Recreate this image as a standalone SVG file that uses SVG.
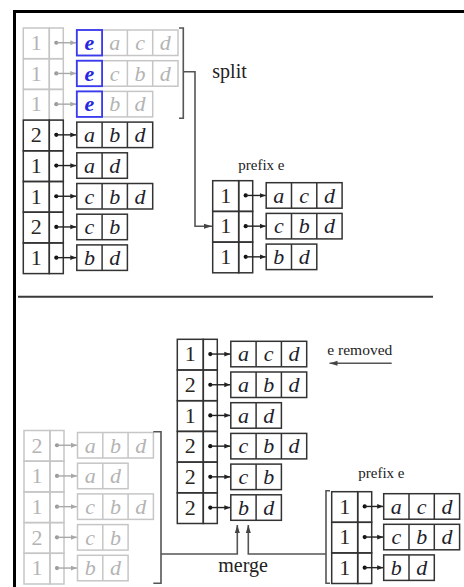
<svg xmlns="http://www.w3.org/2000/svg" width="464" height="587" viewBox="0 0 464 587">
<defs>
<style>
.frame{stroke:#000;stroke-width:3;fill:none}
.div{stroke:#3a3a3a;stroke-width:2}
.cell{fill:none;stroke:#333;stroke-width:1.5}
.f .cell{stroke:#c6c6c6}
.num{font-family:"Liberation Serif",serif;font-size:22px;text-anchor:middle;fill:#2a2622}
.let{font-family:"Liberation Serif",serif;font-size:22px;font-style:italic;text-anchor:middle;fill:#1e1e2c}
.f .num,.f .let{fill:#b4b4b4}
.ptr{stroke:#222;stroke-width:1.4}
.f .ptr{stroke:#a8a8a8}
.dot{fill:#111}
.f .dot{fill:#9a9a9a}
.blue{stroke:#3a3af0;stroke-width:1.8;fill:none}
.f .eb{fill:#2626e0;font-weight:bold}
.conn{stroke:#555;stroke-width:1.6;fill:none}
.lbl{font-family:"Liberation Serif",serif;fill:#222}
</style>
<marker id="ah" viewBox="0 0 6 6" refX="6" refY="3" markerWidth="6" markerHeight="6" markerUnits="userSpaceOnUse" orient="auto"><path d="M0,0.6 L6,3 L0,5.4 z" fill="#222"/></marker>
<marker id="ahf" viewBox="0 0 6 6" refX="6" refY="3" markerWidth="6" markerHeight="6" markerUnits="userSpaceOnUse" orient="auto"><path d="M0,0.6 L6,3 L0,5.4 z" fill="#a8a8a8"/></marker>
<marker id="ahc" viewBox="0 0 8 6" refX="8" refY="3" markerWidth="8" markerHeight="6" markerUnits="userSpaceOnUse" orient="auto"><path d="M0,0.5 L8,3 L0,5.5 z" fill="#444"/></marker>
</defs>

<g id="frame">
<path class="frame" d="M13,11.5 H464 M14.5,10 V587"/>
<line class="div" x1="18" y1="296.7" x2="433" y2="296.7"/>
</g>

<g id="table-top-faded" class="f" transform="translate(23.3,28)">
<g transform="translate(0,0)">
<rect class="cell" width="26" height="30.7"/><rect class="cell" x="26" width="14" height="30.7"/>
<text class="num" x="13" y="22">1</text>
<circle class="dot" cx="33" cy="14.75" r="2.1"/><line class="ptr" x1="33" y1="14.75" x2="53" y2="14.75" marker-end="url(#ahf)"/>
<rect class="cell" x="53.5" y="2" width="101.2" height="25.5"/>
<path class="cell" d="M78.8,2 V27.5 M104.1,2 V27.5 M129.4,2 V27.5"/>
<rect class="blue" x="53.5" y="2" width="25.3" height="25.5"/>
<text class="let eb" x="66.15" y="22">e</text><text class="let" x="91.45" y="22">a</text><text class="let" x="116.75" y="22">c</text><text class="let" x="142.05" y="22">d</text>
</g>
<g transform="translate(0,30.7)">
<rect class="cell" width="26" height="30.7"/><rect class="cell" x="26" width="14" height="30.7"/>
<text class="num" x="13" y="22">1</text>
<circle class="dot" cx="33" cy="14.75" r="2.1"/><line class="ptr" x1="33" y1="14.75" x2="53" y2="14.75" marker-end="url(#ahf)"/>
<rect class="cell" x="53.5" y="2" width="101.2" height="25.5"/>
<path class="cell" d="M78.8,2 V27.5 M104.1,2 V27.5 M129.4,2 V27.5"/>
<rect class="blue" x="53.5" y="2" width="25.3" height="25.5"/>
<text class="let eb" x="66.15" y="22">e</text><text class="let" x="91.45" y="22">c</text><text class="let" x="116.75" y="22">b</text><text class="let" x="142.05" y="22">d</text>
</g>
<g transform="translate(0,61.4)">
<rect class="cell" width="26" height="30.7"/><rect class="cell" x="26" width="14" height="30.7"/>
<text class="num" x="13" y="22">1</text>
<circle class="dot" cx="33" cy="14.75" r="2.1"/><line class="ptr" x1="33" y1="14.75" x2="53" y2="14.75" marker-end="url(#ahf)"/>
<rect class="cell" x="53.5" y="2" width="75.9" height="25.5"/>
<path class="cell" d="M78.8,2 V27.5 M104.1,2 V27.5"/>
<rect class="blue" x="53.5" y="2" width="25.3" height="25.5"/>
<text class="let eb" x="66.15" y="22">e</text><text class="let" x="91.45" y="22">b</text><text class="let" x="116.75" y="22">d</text>
</g>
</g>

<g id="table-top-main" transform="translate(23.3,120.1)">
<g transform="translate(0,0)">
<rect class="cell" width="26" height="30.7"/><rect class="cell" x="26" width="14" height="30.7"/>
<text class="num" x="13" y="22">2</text>
<circle class="dot" cx="33" cy="14.75" r="2.1"/><line class="ptr" x1="33" y1="14.75" x2="53" y2="14.75" marker-end="url(#ah)"/>
<rect class="cell" x="53.5" y="2" width="75.9" height="25.5"/>
<path class="cell" d="M78.8,2 V27.5 M104.1,2 V27.5"/>
<text class="let" x="66.15" y="22">a</text><text class="let" x="91.45" y="22">b</text><text class="let" x="116.75" y="22">d</text>
</g>
<g transform="translate(0,30.7)">
<rect class="cell" width="26" height="30.7"/><rect class="cell" x="26" width="14" height="30.7"/>
<text class="num" x="13" y="22">1</text>
<circle class="dot" cx="33" cy="14.75" r="2.1"/><line class="ptr" x1="33" y1="14.75" x2="53" y2="14.75" marker-end="url(#ah)"/>
<rect class="cell" x="53.5" y="2" width="50.6" height="25.5"/>
<path class="cell" d="M78.8,2 V27.5"/>
<text class="let" x="66.15" y="22">a</text><text class="let" x="91.45" y="22">d</text>
</g>
<g transform="translate(0,61.4)">
<rect class="cell" width="26" height="30.7"/><rect class="cell" x="26" width="14" height="30.7"/>
<text class="num" x="13" y="22">1</text>
<circle class="dot" cx="33" cy="14.75" r="2.1"/><line class="ptr" x1="33" y1="14.75" x2="53" y2="14.75" marker-end="url(#ah)"/>
<rect class="cell" x="53.5" y="2" width="75.9" height="25.5"/>
<path class="cell" d="M78.8,2 V27.5 M104.1,2 V27.5"/>
<text class="let" x="66.15" y="22">c</text><text class="let" x="91.45" y="22">b</text><text class="let" x="116.75" y="22">d</text>
</g>
<g transform="translate(0,92.1)">
<rect class="cell" width="26" height="30.7"/><rect class="cell" x="26" width="14" height="30.7"/>
<text class="num" x="13" y="22">2</text>
<circle class="dot" cx="33" cy="14.75" r="2.1"/><line class="ptr" x1="33" y1="14.75" x2="53" y2="14.75" marker-end="url(#ah)"/>
<rect class="cell" x="53.5" y="2" width="50.6" height="25.5"/>
<path class="cell" d="M78.8,2 V27.5"/>
<text class="let" x="66.15" y="22">c</text><text class="let" x="91.45" y="22">b</text>
</g>
<g transform="translate(0,122.8)">
<rect class="cell" width="26" height="30.7"/><rect class="cell" x="26" width="14" height="30.7"/>
<text class="num" x="13" y="22">1</text>
<circle class="dot" cx="33" cy="14.75" r="2.1"/><line class="ptr" x1="33" y1="14.75" x2="53" y2="14.75" marker-end="url(#ah)"/>
<rect class="cell" x="53.5" y="2" width="50.6" height="25.5"/>
<path class="cell" d="M78.8,2 V27.5"/>
<text class="let" x="66.15" y="22">b</text><text class="let" x="91.45" y="22">d</text>
</g>
</g>

<g id="table-prefix-top" transform="translate(212.7,180.7)">
<g transform="translate(0,0)">
<rect class="cell" width="26" height="30.7"/><rect class="cell" x="26" width="14" height="30.7"/>
<text class="num" x="13" y="22">1</text>
<circle class="dot" cx="33" cy="14.75" r="2.1"/><line class="ptr" x1="33" y1="14.75" x2="53" y2="14.75" marker-end="url(#ah)"/>
<rect class="cell" x="53.5" y="2" width="75.9" height="25.5"/>
<path class="cell" d="M78.8,2 V27.5 M104.1,2 V27.5"/>
<text class="let" x="66.15" y="22">a</text><text class="let" x="91.45" y="22">c</text><text class="let" x="116.75" y="22">d</text>
</g>
<g transform="translate(0,30.7)">
<rect class="cell" width="26" height="30.7"/><rect class="cell" x="26" width="14" height="30.7"/>
<text class="num" x="13" y="22">1</text>
<circle class="dot" cx="33" cy="14.75" r="2.1"/><line class="ptr" x1="33" y1="14.75" x2="53" y2="14.75" marker-end="url(#ah)"/>
<rect class="cell" x="53.5" y="2" width="75.9" height="25.5"/>
<path class="cell" d="M78.8,2 V27.5 M104.1,2 V27.5"/>
<text class="let" x="66.15" y="22">c</text><text class="let" x="91.45" y="22">b</text><text class="let" x="116.75" y="22">d</text>
</g>
<g transform="translate(0,61.4)">
<rect class="cell" width="26" height="30.7"/><rect class="cell" x="26" width="14" height="30.7"/>
<text class="num" x="13" y="22">1</text>
<circle class="dot" cx="33" cy="14.75" r="2.1"/><line class="ptr" x1="33" y1="14.75" x2="53" y2="14.75" marker-end="url(#ah)"/>
<rect class="cell" x="53.5" y="2" width="50.6" height="25.5"/>
<path class="cell" d="M78.8,2 V27.5"/>
<text class="let" x="66.15" y="22">b</text><text class="let" x="91.45" y="22">d</text>
</g>
</g>

<g id="table-merged" transform="translate(177.3,339.3)">
<g transform="translate(0,0)">
<rect class="cell" width="26" height="30.7"/><rect class="cell" x="26" width="14" height="30.7"/>
<text class="num" x="13" y="22">1</text>
<circle class="dot" cx="33" cy="14.75" r="2.1"/><line class="ptr" x1="33" y1="14.75" x2="53" y2="14.75" marker-end="url(#ah)"/>
<rect class="cell" x="53.5" y="2" width="75.9" height="25.5"/>
<path class="cell" d="M78.8,2 V27.5 M104.1,2 V27.5"/>
<text class="let" x="66.15" y="22">a</text><text class="let" x="91.45" y="22">c</text><text class="let" x="116.75" y="22">d</text>
</g>
<g transform="translate(0,30.7)">
<rect class="cell" width="26" height="30.7"/><rect class="cell" x="26" width="14" height="30.7"/>
<text class="num" x="13" y="22">2</text>
<circle class="dot" cx="33" cy="14.75" r="2.1"/><line class="ptr" x1="33" y1="14.75" x2="53" y2="14.75" marker-end="url(#ah)"/>
<rect class="cell" x="53.5" y="2" width="75.9" height="25.5"/>
<path class="cell" d="M78.8,2 V27.5 M104.1,2 V27.5"/>
<text class="let" x="66.15" y="22">a</text><text class="let" x="91.45" y="22">b</text><text class="let" x="116.75" y="22">d</text>
</g>
<g transform="translate(0,61.4)">
<rect class="cell" width="26" height="30.7"/><rect class="cell" x="26" width="14" height="30.7"/>
<text class="num" x="13" y="22">1</text>
<circle class="dot" cx="33" cy="14.75" r="2.1"/><line class="ptr" x1="33" y1="14.75" x2="53" y2="14.75" marker-end="url(#ah)"/>
<rect class="cell" x="53.5" y="2" width="50.6" height="25.5"/>
<path class="cell" d="M78.8,2 V27.5"/>
<text class="let" x="66.15" y="22">a</text><text class="let" x="91.45" y="22">d</text>
</g>
<g transform="translate(0,92.1)">
<rect class="cell" width="26" height="30.7"/><rect class="cell" x="26" width="14" height="30.7"/>
<text class="num" x="13" y="22">2</text>
<circle class="dot" cx="33" cy="14.75" r="2.1"/><line class="ptr" x1="33" y1="14.75" x2="53" y2="14.75" marker-end="url(#ah)"/>
<rect class="cell" x="53.5" y="2" width="75.9" height="25.5"/>
<path class="cell" d="M78.8,2 V27.5 M104.1,2 V27.5"/>
<text class="let" x="66.15" y="22">c</text><text class="let" x="91.45" y="22">b</text><text class="let" x="116.75" y="22">d</text>
</g>
<g transform="translate(0,122.8)">
<rect class="cell" width="26" height="30.7"/><rect class="cell" x="26" width="14" height="30.7"/>
<text class="num" x="13" y="22">2</text>
<circle class="dot" cx="33" cy="14.75" r="2.1"/><line class="ptr" x1="33" y1="14.75" x2="53" y2="14.75" marker-end="url(#ah)"/>
<rect class="cell" x="53.5" y="2" width="50.6" height="25.5"/>
<path class="cell" d="M78.8,2 V27.5"/>
<text class="let" x="66.15" y="22">c</text><text class="let" x="91.45" y="22">b</text>
</g>
<g transform="translate(0,153.5)">
<rect class="cell" width="26" height="30.7"/><rect class="cell" x="26" width="14" height="30.7"/>
<text class="num" x="13" y="22">2</text>
<circle class="dot" cx="33" cy="14.75" r="2.1"/><line class="ptr" x1="33" y1="14.75" x2="53" y2="14.75" marker-end="url(#ah)"/>
<rect class="cell" x="53.5" y="2" width="50.6" height="25.5"/>
<path class="cell" d="M78.8,2 V27.5"/>
<text class="let" x="66.15" y="22">b</text><text class="let" x="91.45" y="22">d</text>
</g>
</g>

<g id="table-bottom-faded" class="f" transform="translate(24,430.5)">
<g transform="translate(0,0)">
<rect class="cell" width="26" height="30.7"/><rect class="cell" x="26" width="14" height="30.7"/>
<text class="num" x="13" y="22">2</text>
<circle class="dot" cx="33" cy="14.75" r="2.1"/><line class="ptr" x1="33" y1="14.75" x2="53" y2="14.75" marker-end="url(#ahf)"/>
<rect class="cell" x="53.5" y="2" width="75.9" height="25.5"/>
<path class="cell" d="M78.8,2 V27.5 M104.1,2 V27.5"/>
<text class="let" x="66.15" y="22">a</text><text class="let" x="91.45" y="22">b</text><text class="let" x="116.75" y="22">d</text>
</g>
<g transform="translate(0,30.7)">
<rect class="cell" width="26" height="30.7"/><rect class="cell" x="26" width="14" height="30.7"/>
<text class="num" x="13" y="22">1</text>
<circle class="dot" cx="33" cy="14.75" r="2.1"/><line class="ptr" x1="33" y1="14.75" x2="53" y2="14.75" marker-end="url(#ahf)"/>
<rect class="cell" x="53.5" y="2" width="50.6" height="25.5"/>
<path class="cell" d="M78.8,2 V27.5"/>
<text class="let" x="66.15" y="22">a</text><text class="let" x="91.45" y="22">d</text>
</g>
<g transform="translate(0,61.4)">
<rect class="cell" width="26" height="30.7"/><rect class="cell" x="26" width="14" height="30.7"/>
<text class="num" x="13" y="22">1</text>
<circle class="dot" cx="33" cy="14.75" r="2.1"/><line class="ptr" x1="33" y1="14.75" x2="53" y2="14.75" marker-end="url(#ahf)"/>
<rect class="cell" x="53.5" y="2" width="75.9" height="25.5"/>
<path class="cell" d="M78.8,2 V27.5 M104.1,2 V27.5"/>
<text class="let" x="66.15" y="22">c</text><text class="let" x="91.45" y="22">b</text><text class="let" x="116.75" y="22">d</text>
</g>
<g transform="translate(0,92.1)">
<rect class="cell" width="26" height="30.7"/><rect class="cell" x="26" width="14" height="30.7"/>
<text class="num" x="13" y="22">2</text>
<circle class="dot" cx="33" cy="14.75" r="2.1"/><line class="ptr" x1="33" y1="14.75" x2="53" y2="14.75" marker-end="url(#ahf)"/>
<rect class="cell" x="53.5" y="2" width="50.6" height="25.5"/>
<path class="cell" d="M78.8,2 V27.5"/>
<text class="let" x="66.15" y="22">c</text><text class="let" x="91.45" y="22">b</text>
</g>
<g transform="translate(0,122.8)">
<rect class="cell" width="26" height="30.7"/><rect class="cell" x="26" width="14" height="30.7"/>
<text class="num" x="13" y="22">1</text>
<circle class="dot" cx="33" cy="14.75" r="2.1"/><line class="ptr" x1="33" y1="14.75" x2="53" y2="14.75" marker-end="url(#ahf)"/>
<rect class="cell" x="53.5" y="2" width="50.6" height="25.5"/>
<path class="cell" d="M78.8,2 V27.5"/>
<text class="let" x="66.15" y="22">b</text><text class="let" x="91.45" y="22">d</text>
</g>
</g>

<g id="table-prefix-bottom" transform="translate(331.7,491.7)">
<g transform="translate(0,0)">
<rect class="cell" width="26" height="30.6"/><rect class="cell" x="26" width="14" height="30.6"/>
<text class="num" x="13" y="22">1</text>
<circle class="dot" cx="33" cy="14.75" r="2.1"/><line class="ptr" x1="33" y1="14.75" x2="51.5" y2="14.75" marker-end="url(#ah)"/>
<rect class="cell" x="52" y="2" width="75.9" height="25.5"/>
<path class="cell" d="M77.3,2 V27.5 M102.6,2 V27.5"/>
<text class="let" x="64.65" y="22">a</text><text class="let" x="89.95" y="22">c</text><text class="let" x="115.25" y="22">d</text>
</g>
<g transform="translate(0,30.6)">
<rect class="cell" width="26" height="30.6"/><rect class="cell" x="26" width="14" height="30.6"/>
<text class="num" x="13" y="22">1</text>
<circle class="dot" cx="33" cy="14.75" r="2.1"/><line class="ptr" x1="33" y1="14.75" x2="51.5" y2="14.75" marker-end="url(#ah)"/>
<rect class="cell" x="52" y="2" width="75.9" height="25.5"/>
<path class="cell" d="M77.3,2 V27.5 M102.6,2 V27.5"/>
<text class="let" x="64.65" y="22">c</text><text class="let" x="89.95" y="22">b</text><text class="let" x="115.25" y="22">d</text>
</g>
<g transform="translate(0,61.2)">
<rect class="cell" width="26" height="30.6"/><rect class="cell" x="26" width="14" height="30.6"/>
<text class="num" x="13" y="22">1</text>
<circle class="dot" cx="33" cy="14.75" r="2.1"/><line class="ptr" x1="33" y1="14.75" x2="51.5" y2="14.75" marker-end="url(#ah)"/>
<rect class="cell" x="52" y="2" width="50.6" height="25.5"/>
<path class="cell" d="M77.3,2 V27.5"/>
<text class="let" x="64.65" y="22">b</text><text class="let" x="89.95" y="22">d</text>
</g>
</g>

<g id="connectors">
<path class="conn" d="M179,28 H183.3 V118.3 H179"/>
<path class="conn" d="M183.3,71.7 H195 V226.2 H212" marker-end="url(#ahc)"/>
<path class="conn" d="M153.3,431.7 H161 V583.3 H153.3"/>
<path class="conn" d="M161,554 H237.3 V525" marker-end="url(#ahc)"/>
<path class="conn" d="M330,490.7 H326 V583.3 H330"/>
<path class="conn" d="M326,554 H248.3 V525" marker-end="url(#ahc)"/>
<path class="conn" d="M391.7,363.3 H329.5" stroke-width="2" marker-end="url(#ahc)"/>
</g>

<g id="labels">
<text class="lbl" x="212.3" y="78.3" font-size="20">split</text>
<text class="lbl" x="238.3" y="170" font-size="15">prefix e</text>
<text class="lbl" x="327.3" y="355" font-size="15.5">e removed</text>
<text class="lbl" x="358.3" y="478.3" font-size="15">prefix e</text>
<text class="lbl" x="218.3" y="571.7" font-size="20">merge</text>
</g>
</svg>
